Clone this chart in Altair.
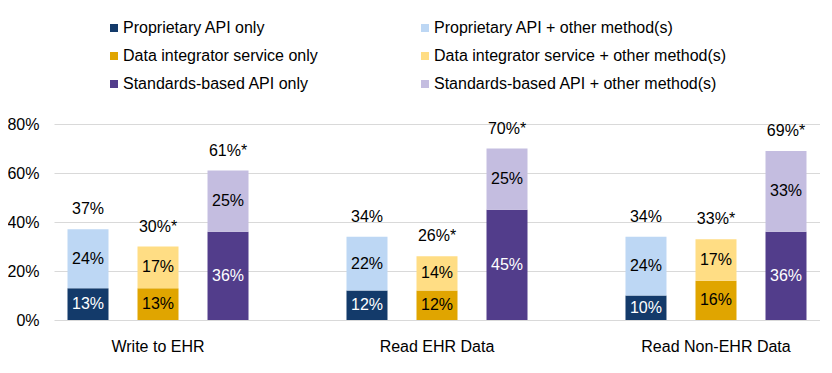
import altair as alt
import pandas as pd

# ---- data ----
uses = ["Write to EHR", "Read EHR Data", "Read Non-EHR Data"]
methods = ["Proprietary API", "Data integrator service", "Standards-based API"]
only_vals = [[13, 13, 36], [12, 12, 45], [10, 16, 36]]
other_vals = [[24, 17, 25], [22, 14, 25], [24, 17, 33]]
significant = [[False, True, True], [False, True, True], [False, True, True]]

series = [
    "Proprietary API only", "Proprietary API + other method(s)",
    "Data integrator service only", "Data integrator service + other method(s)",
    "Standards-based API only", "Standards-based API + other method(s)",
]
colors = ["#133A6A", "#BDD7F4", "#E0A500", "#FFDD84", "#523D8B", "#C4BDE0"]
label_colors = ["white", "black", "black", "black", "white", "black"]

rows = []
tot_rows = []
for ui, u in enumerate(uses):
    for mi, m in enumerate(methods):
        a = only_vals[ui][mi]
        b = other_vals[ui][mi]
        rows.append(dict(use=u, method=m, series=f"{m} only", y0=0, y1=a,
                         mid=a / 2, lab=f"{a}%", lc=label_colors[mi * 2]))
        rows.append(dict(use=u, method=m, series=f"{m} + other method(s)", y0=a,
                         y1=a + b, mid=a + b / 2, lab=f"{b}%", lc=label_colors[mi * 2 + 1]))
        tot_rows.append(dict(use=u, method=m, total=a + b,
                             lab=f"{a + b}%" + ("*" if significant[ui][mi] else "")))
df = pd.DataFrame(rows)
tdf = pd.DataFrame(tot_rows)

FONT = "Liberation Sans"

x_enc = alt.X("use:N", sort=uses,
              scale=alt.Scale(paddingInner=0.3, paddingOuter=0.0228),
              axis=alt.Axis(title=None, labelAngle=0, domain=False, ticks=False,
                            tickSize=0, labelPadding=18, labelFontSize=16,
                            labelFont=FONT, labelColor="black"))
xo_enc = alt.XOffset("method:N", sort=methods,
                     scale=alt.Scale(paddingInner=0.4143, paddingOuter=0.102))

bars = alt.Chart(df).mark_bar().encode(
    x=x_enc,
    xOffset=xo_enc,
    y=alt.Y("y0:Q", scale=alt.Scale(domain=[0, 80]),
            axis=alt.Axis(title=None, values=[0, 20, 40, 60, 80],
                          labelExpr="datum.value + '%'", domain=False, ticks=False,
                          tickSize=0, labelPadding=15, labelFontSize=16,
                          labelFont=FONT, labelColor="black",
                          gridColor="#D9D9D9", gridWidth=1)),
    y2="y1:Q",
    color=alt.Color("series:N", sort=series,
                    scale=alt.Scale(domain=series, range=colors),
                    legend=alt.Legend(title=None, orient="none", legendX=52,
                                      legendY=-104, columns=2, columnPadding=99,
                                      direction="horizontal", padding=0,
                                      rowPadding=12, symbolType="square",
                                      symbolSize=64, symbolStrokeWidth=0,
                                      labelFontSize=16, labelFont=FONT,
                                      labelColor="black", labelOffset=1,
                                      labelLimit=400)),
)

seg_text = alt.Chart(df).mark_text(fontSize=16, font=FONT, baseline="middle").encode(
    x=alt.X("use:N", sort=uses),
    xOffset=alt.XOffset("method:N", sort=methods),
    y=alt.Y("mid:Q"),
    text="lab:N",
    color=alt.Color("lc:N", scale=None),
)

tot_text = alt.Chart(tdf).mark_text(fontSize=16, font=FONT, baseline="middle",
                                    dy=-20, color="black").encode(
    x=alt.X("use:N", sort=uses),
    xOffset=alt.XOffset("method:N", sort=methods),
    y=alt.Y("total:Q"),
    text="lab:N",
)

chart = alt.layer(bars, seg_text, tot_text).properties(
    width=766, height=196,
    autosize=alt.AutoSizeParams(type="none"),
    padding={"left": 46, "top": 116, "right": 0, "bottom": 45},
).configure_view(stroke=None).configure_axis(labelFont=FONT)

chart.save("out.html", embed_options={"renderer": "svg", "actions": False})
